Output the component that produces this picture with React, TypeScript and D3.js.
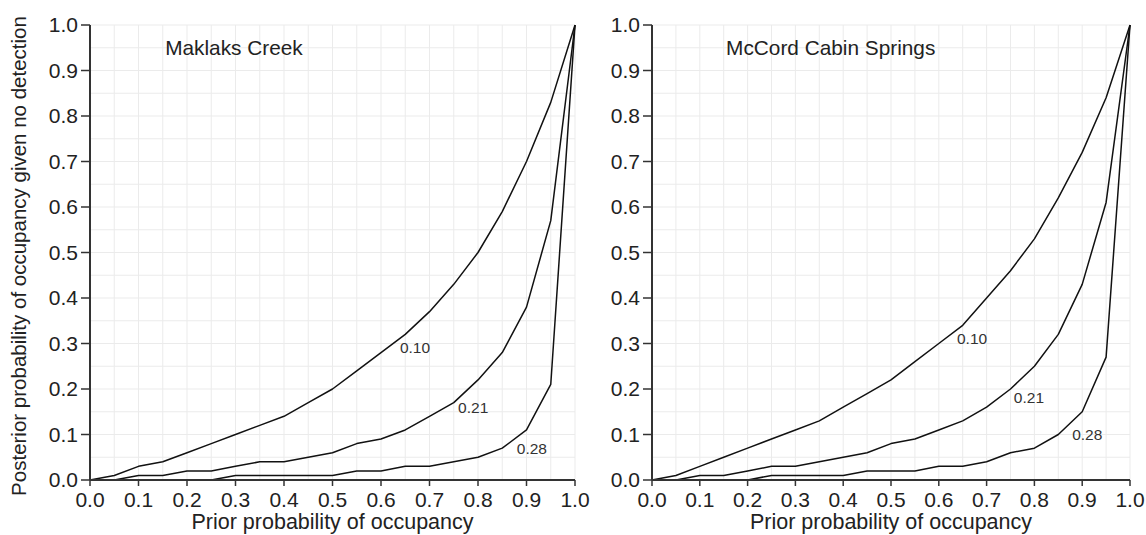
import React from 'react';
import * as d3 from 'd3';

const WIDTH = 1146;
const HEIGHT = 535;

// prior probability of occupancy
const prior = [0, 0.05, 0.1, 0.15, 0.2, 0.25, 0.3, 0.35, 0.4, 0.45, 0.5,
  0.55, 0.6, 0.65, 0.7, 0.75, 0.8, 0.85, 0.9, 0.95, 1.0];

// Maklaks Creek
const maklaks10 = [0, 0.01, 0.03, 0.04, 0.06, 0.08, 0.10, 0.12, 0.14, 0.17, 0.20,
  0.24, 0.28, 0.32, 0.37, 0.43, 0.50, 0.59, 0.70, 0.83, 1.0];
const maklaks21 = [0, 0, 0.01, 0.01, 0.02, 0.02, 0.03, 0.04, 0.04, 0.05, 0.06,
  0.08, 0.09, 0.11, 0.14, 0.17, 0.22, 0.28, 0.38, 0.57, 1.0];
const maklaks28 = [0, 0, 0, 0, 0, 0, 0.01, 0.01, 0.01, 0.01, 0.01,
  0.02, 0.02, 0.03, 0.03, 0.04, 0.05, 0.07, 0.11, 0.21, 1.0];

// McCord Cabin Springs
const mccord10 = [0, 0.01, 0.03, 0.05, 0.07, 0.09, 0.11, 0.13, 0.16, 0.19, 0.22,
  0.26, 0.30, 0.34, 0.40, 0.46, 0.53, 0.62, 0.72, 0.84, 1.0];
const mccord21 = [0, 0, 0.01, 0.01, 0.02, 0.03, 0.03, 0.04, 0.05, 0.06, 0.08,
  0.09, 0.11, 0.13, 0.16, 0.20, 0.25, 0.32, 0.43, 0.61, 1.0];
const mccord28 = [0, 0, 0, 0, 0, 0.01, 0.01, 0.01, 0.01, 0.02, 0.02,
  0.02, 0.03, 0.03, 0.04, 0.06, 0.07, 0.10, 0.15, 0.27, 1.0];

const curveNames = ['0.10', '0.21', '0.28'];
// where the curve labels sit, in data units (prior, posterior)
const maklaksLabelX = [0.639, 0.759, 0.880];
const maklaksLabelY = [0.279, 0.147, 0.057];
const mccordLabelX = [0.638, 0.757, 0.879];
const mccordLabelY = [0.299, 0.169, 0.088];

const ticks = d3.range(0, 11).map(i => i / 10);
const gridTicks = d3.range(0, 21).map(i => i / 20);

const panels = [
  {
    title: 'Maklaks Creek',
    series: [maklaks10, maklaks21, maklaks28],
    labelX: maklaksLabelX,
    labelY: maklaksLabelY,
    x0: 90, x1: 575,
  },
  {
    title: 'McCord Cabin Springs',
    series: [mccord10, mccord21, mccord28],
    labelX: mccordLabelX,
    labelY: mccordLabelY,
    x0: 652, x1: 1130,
  },
];

const TOP = 25;
const BOTTOM = 480;
const FONT = 'Liberation Sans, Arial, sans-serif';

function Panel({ panel }) {
  const x = d3.scaleLinear().domain([0, 1]).range([panel.x0, panel.x1]);
  const y = d3.scaleLinear().domain([0, 1]).range([BOTTOM, TOP]);
  const line = d3.line<number>().x((d, i) => x(prior[i])).y(d => y(d));

  return (
    <g fontFamily={FONT}>
      {gridTicks.map(t => (
        <g key={t}>
          <line x1={x(t)} x2={x(t)} y1={y(0)} y2={y(1)} stroke="#ebebeb" strokeWidth={1} />
          <line x1={x(0)} x2={x(1)} y1={y(t)} y2={y(t)} stroke="#ebebeb" strokeWidth={1} />
        </g>
      ))}
      {panel.series.map((s, i) => (
        <path key={i} d={line(s) || ''} fill="none" stroke="#111" strokeWidth={1.5} strokeLinejoin="round" />
      ))}
      {curveNames.map((n, i) => (
        <text key={n} x={x(panel.labelX[i])} y={y(panel.labelY[i])} fontSize={15.5} fill="#333">{n}</text>
      ))}
      <text x={x(0.155)} y={55} fontSize={20.8} fill="#222">{panel.title}</text>

      {/* axes */}
      <line x1={x(0)} x2={x(0)} y1={y(0)} y2={y(1)} stroke="#333" strokeWidth={2} />
      <line x1={x(0)} x2={x(1)} y1={y(0)} y2={y(0)} stroke="#333" strokeWidth={2} />
      {ticks.map(t => (
        <g key={t}>
          <line x1={x(0) - 9} x2={x(0)} y1={y(t)} y2={y(t)} stroke="#333" strokeWidth={1.5} />
          <text x={x(0) - 12} y={y(t)} dy="0.35em" textAnchor="end" fontSize={21} fill="#222">
            {d3.format('.1f')(t)}
          </text>
          <line x1={x(t)} x2={x(t)} y1={y(0)} y2={y(0) + 6} stroke="#333" strokeWidth={1.5} />
          <text x={x(t)} y={507} textAnchor="middle" fontSize={21} fill="#222">
            {d3.format('.1f')(t)}
          </text>
        </g>
      ))}
      <text x={(x(0) + x(1)) / 2} y={529} textAnchor="middle" fontSize={21.5} fill="#222">
        Prior probability of occupancy
      </text>
    </g>
  );
}

export default function App() {
  return (
    <svg
      xmlns="http://www.w3.org/2000/svg"
      width={WIDTH}
      height={HEIGHT}
      style={{ position: 'absolute', left: 0, top: 0, background: '#fff' }}
    >
      <rect width={WIDTH} height={HEIGHT} fill="#fff" />
      {panels.map(p => <Panel key={p.title} panel={p} />)}
      <text
        transform="translate(26,256) rotate(-90)"
        textAnchor="middle"
        fontFamily={FONT}
        fontSize={20.5}
        fill="#222"
      >
        Posterior probability of occupancy given no detection
      </text>
    </svg>
  );
}
